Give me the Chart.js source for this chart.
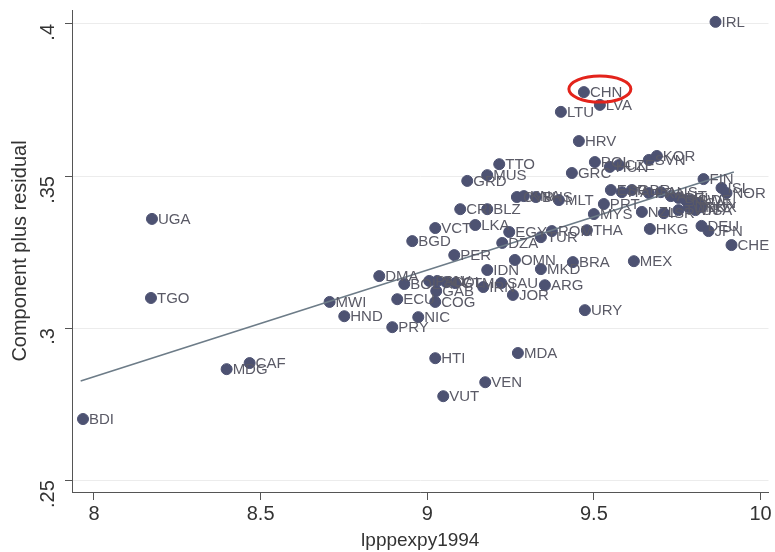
<!DOCTYPE html>
<html>
<head>
<meta charset="utf-8">
<script src="https://cdn.jsdelivr.net/npm/chart.js@4"></script>
<style>
  html, body { margin: 0; padding: 0; background: #fff; }
  #wrap { width: 775px; height: 552px; }
</style>
</head>
<body>
<div id="wrap"><canvas id="chart"></canvas></div>
<script>
// countries, x = lpppexpy1994, y = component plus residual
const countries = ["IRL","CHN","LVA","LTU","HRV","POL","HUN","CZE","SVN","KOR",
  "GRC","TTO","MUS","GRD","CRI","BLZ","CYP","KNA","BHS","MLT",
  "PRT","MYS","THA","ROM","TUR","EGY","DZA","LKA","VCT","BGD",
  "PER","OMN","IDN","MKD","BRA","MEX","DMA","BOL","PAN","SLV",
  "COL","GTM","GAB","COG","IRN","SAU","ARG","JOR","ECU","NIC",
  "PRY","HND","MWI","UGA","TGO","CAF","MDG","BDI","HTI","MDA",
  "VEN","VUT","URY","HKG","NZL","ISR","FIN","ISL","CHE","DEU",
  "JPN","ESP","ITA","GBR","FRA","AUS","AUT","BEL","NLD","SWE",
  "CAN","NOR","DNK","USA","LUX","TWN"];
const xVals = [9.865,9.470,9.518,9.401,9.455,9.503,9.548,9.575,9.665,9.689,
  9.434,9.216,9.180,9.120,9.099,9.180,9.269,9.290,9.326,9.395,
  9.530,9.500,9.479,9.374,9.341,9.246,9.225,9.144,9.024,8.955,
  9.081,9.263,9.180,9.341,9.437,9.620,8.856,8.931,9.006,9.030,
  9.057,9.084,9.027,9.024,9.168,9.222,9.353,9.257,8.910,8.973,
  8.895,8.751,8.707,8.174,8.171,8.467,8.398,7.967,9.024,9.272,
  9.174,9.048,9.473,9.668,9.644,9.710,9.829,9.883,9.913,9.823,
  9.844,9.551,9.584,9.614,9.665,9.701,9.731,9.754,9.775,9.793,
  9.814,9.898,9.784,9.805,9.823,9.754];
const yVals = [0.4007,0.3776,0.3734,0.3711,0.3615,0.3546,0.3530,0.3536,0.3553,0.3566,
  0.3510,0.3539,0.3503,0.3484,0.3391,0.3391,0.3431,0.3434,0.3431,0.3421,
  0.3408,0.3375,0.3322,0.3319,0.3299,0.3316,0.3280,0.3339,0.3329,0.3286,
  0.3240,0.3224,0.3191,0.3194,0.3217,0.3220,0.3171,0.3145,0.3155,0.3155,
  0.3151,0.3148,0.3122,0.3086,0.3135,0.3148,0.3141,0.3109,0.3095,0.3036,
  0.3003,0.3039,0.3086,0.3359,0.3099,0.2885,0.2865,0.2701,0.2901,0.2918,
  0.2822,0.2776,0.3059,0.3326,0.3382,0.3378,0.3490,0.3461,0.3273,0.3336,
  0.3319,0.3454,0.3447,0.3454,0.3444,0.3447,0.3434,0.3428,0.3421,0.3421,
  0.3411,0.3444,0.3398,0.3388,0.3398,0.3388];

// fitted line end points
const fitX = [7.96, 9.92];
const fitY = [0.2826, 0.3513];

const xTicks = [8, 8.5, 9, 9.5, 10];
const yTicks = [0.25, 0.3, 0.35, 0.4];
const highlight = "CHN";

const markerColor = "#4d5272";
const labelColor = "#5a5a66";
const font = "'Liberation Sans', Arial, sans-serif";

const points = countries.map((c, i) => ({x: xVals[i], y: yVals[i], name: c}));
const fitLine = fitX.map((x, i) => ({x: x, y: fitY[i]}));

const labelPlugin = {
  id: "labels",
  afterDatasetsDraw(chart) {
    const ctx = chart.ctx;
    const meta = chart.getDatasetMeta(1);
    ctx.save();
    ctx.font = "15px " + font;
    ctx.fillStyle = labelColor;
    ctx.textBaseline = "middle";
    ctx.textAlign = "left";
    meta.data.forEach((el, i) => {
      ctx.fillText(points[i].name, el.x + 6, el.y + 1);
    });
    // red ellipse around the highlighted country
    const k = countries.indexOf(highlight);
    const p = meta.data[k];
    ctx.beginPath();
    ctx.ellipse(p.x + 16, p.y - 3, 31, 13, 0, 0, Math.PI * 2);
    ctx.strokeStyle = "#e3231b";
    ctx.lineWidth = 3;
    ctx.stroke();
    ctx.restore();
  }
};

new Chart(document.getElementById("chart"),
  {
    type: "scatter",
    data:
    {
      datasets:
      [
        {
          type: "line",
          data: fitLine,
          borderColor: "#6d7c88",
          borderWidth: 1.6,
          pointRadius: 0,
          fill: false
        },
        {
          data: points,
          backgroundColor: markerColor,
          borderColor: markerColor,
          pointRadius: 5.5,
          pointHoverRadius: 5.5
        }
      ]
    },
    options:
    {
      responsive: true,
      maintainAspectRatio: false,
      animation: false,
      layout: { padding: { top: 10, right: 5, left: 8, bottom: 0 } },
      plugins: { legend: { display: false }, tooltip: { enabled: false } },
      scales:
      {
        x:
        {
          type: "linear",
          min: 7.934,
          max: 10.024,
          afterBuildTicks: s => { s.ticks = xTicks.map(v => ({value: v})); },
          afterFit: s => { s.height = 60; },
          grid: { drawOnChartArea: false, color: "#555", tickLength: 8, tickColor: "#555" },
          border: { color: "#555", width: 1 },
          ticks: { color: "#333", font: { family: font, size: 20 }, padding: 2, maxRotation: 0, minRotation: 0,
            callback: v => String(v) },
          title: { display: true, text: "lpppexpy1994", color: "#333", font: { family: font, size: 19 }, padding: { top: 0, bottom: 0 } }
        },
        y:
        {
          type: "linear",
          min: 0.2461,
          max: 0.4046,
          afterBuildTicks: s => { s.ticks = yTicks.map(v => ({value: v})); },
          afterFit: s => { s.width = 64; s.paddingTop = 0; s.paddingBottom = 0; },
          grid: { color: "#ececec", tickLength: 7, tickColor: "#555" },
          border: { color: "#555", width: 1 },
          ticks: {
            color: "#333",
            font: { family: font, size: 20 },
            padding: 17,
            minRotation: 90,
            maxRotation: 90,
            callback: v => String(v).replace(/^0/, "")
          },
          title: { display: true, text: "Component plus residual", color: "#333", font: { family: font, size: 20 }, padding: { top: 0, bottom: 0 } }
        }
      }
    },
    plugins: [labelPlugin]
  });
</script>
</body>
</html>
